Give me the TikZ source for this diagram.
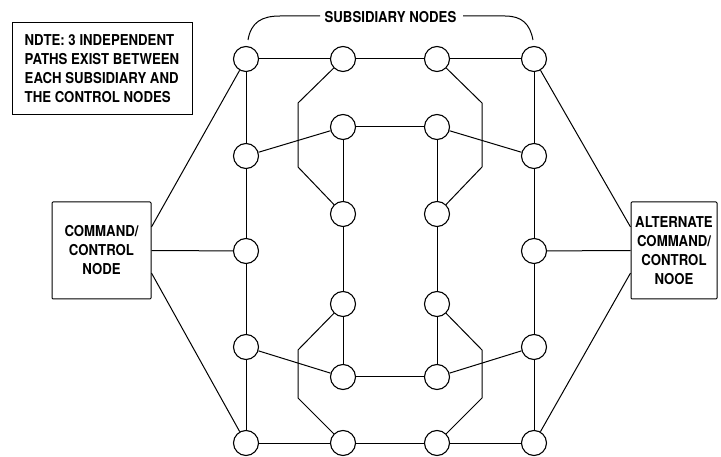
\documentclass[tikz,border=0pt]{standalone}
\usepackage{fontspec}
\setmainfont{TeX Gyre Heros}[FakeStretch=0.88]
\usetikzlibrary{calc}
\begin{document}
\begin{tikzpicture}[x=1pt,y=-1pt,
  sub/.style={circle,draw,line width=1.1pt,minimum size=25pt,inner sep=0pt},
  link/.style={line width=1pt},
  box/.style={draw,line width=1pt,rounded corners=1pt,align=center,inner sep=0pt},
  lbl/.style={font=\bfseries\fontsize{15}{19}\selectfont}]
\useasboundingbox (0,0) rectangle (721,457);

% outer columns
\foreach \n/\y in {1/59,2/156,3/251,4/347,5/443}{
  \node[sub] (L\n) at (246,\y) {};
  \node[sub] (R\n) at (534,\y) {};
}
% top and bottom inner
\node[sub] (T1) at (343,59) {};
\node[sub] (T2) at (437,59) {};
\node[sub] (B1) at (343,443) {};
\node[sub] (B2) at (437,443) {};
% inner
\node[sub] (A1) at (343,127) {};
\node[sub] (A2) at (437,127) {};
\node[sub] (C1) at (343,214) {};
\node[sub] (C2) at (437,214) {};
\node[sub] (D1) at (343,304) {};
\node[sub] (D2) at (437,304) {};
\node[sub] (E1) at (343,377) {};
\node[sub] (E2) at (437,377) {};

% boxes
\node[box,lbl,minimum width=99pt,minimum height=97pt] (cmd) at (101.5,250.5) {COMMAND/\\CONTROL\\NODE};
\node[box,lbl,minimum width=86pt,minimum height=97pt] (alt) at (674,250.5) {ALTERNATE\\COMMAND/\\CONTROL\\NOOE};
\node[draw,line width=1pt,lbl,align=left,minimum width=180pt,minimum height=92pt,inner sep=0pt] (note) at (102,69)
  {NDTE: 3 INDEPENDENT\\PATHS EXIST BETWEEN\\EACH SUBSIDIARY AND\\THE CONTROL NODES};

% subsidiary label and bracket
\node[lbl,inner sep=0pt] (sublbl) at (390.5,17) {SUBSIDIARY NODES};
\coordinate (bl0) at (248,40);
\coordinate (bl1) at (280,16);
\coordinate (bl2) at (320,16);
\coordinate (br0) at (463,16);
\coordinate (br1) at (505,16);
\coordinate (br2) at (533,40);
\draw[link] (bl0) .. controls (251,22) and (262,16) .. (bl1) -- (bl2);
\draw[link] (br0) -- (br1) .. controls (522,16) and (530,24) .. (br2);

% outer verticals
\draw[link] (L1) -- (L2) -- (L3) -- (L4) -- (L5);
\draw[link] (R1) -- (R2) -- (R3) -- (R4) -- (R5);
% top and bottom rows
\draw[link] (L1) -- (T1) -- (T2) -- (R1);
\draw[link] (L5) -- (B1) -- (B2) -- (R5);
% inner verticals and horizontals
\draw[link] (A1) -- (C1) -- (D1) -- (E1);
\draw[link] (A2) -- (C2) -- (D2) -- (E2);
\draw[link] (A1) -- (A2);
\draw[link] (E1) -- (E2);
% crossing links
\draw[link] (L2) -- (A1);
\draw[link] (R2) -- (A2);
\draw[link] (L4) -- (E1);
\draw[link] (R4) -- (E2);
% octagonal paths
\coordinate (p1) at (298,103);
\coordinate (p2) at (298,167);
\coordinate (p3) at (482,103);
\coordinate (p4) at (482,167);
\coordinate (q1) at (298,350);
\coordinate (q2) at (298,398);
\coordinate (q3) at (482,350);
\coordinate (q4) at (482,398);
\draw[link] (T1) -- (p1) -- (p2) -- (C1);
\draw[link] (T2) -- (p3) -- (p4) -- (C2);
\draw[link] (D1) -- (q1) -- (q2) -- (B1);
\draw[link] (D2) -- (q3) -- (q4) -- (B2);

% control node links
\draw[link] ($(cmd.north east)!0.26!(cmd.south east)$) -- (L1);
\draw[link] (cmd.east) -- (L3);
\draw[link] ($(cmd.north east)!0.73!(cmd.south east)$) -- (L5);
\draw[link] ($(alt.north west)!0.26!(alt.south west)$) -- (R1);
\draw[link] (alt.west) -- (R3);
\draw[link] ($(alt.north west)!0.73!(alt.south west)$) -- (R5);
\end{tikzpicture}
\end{document}
